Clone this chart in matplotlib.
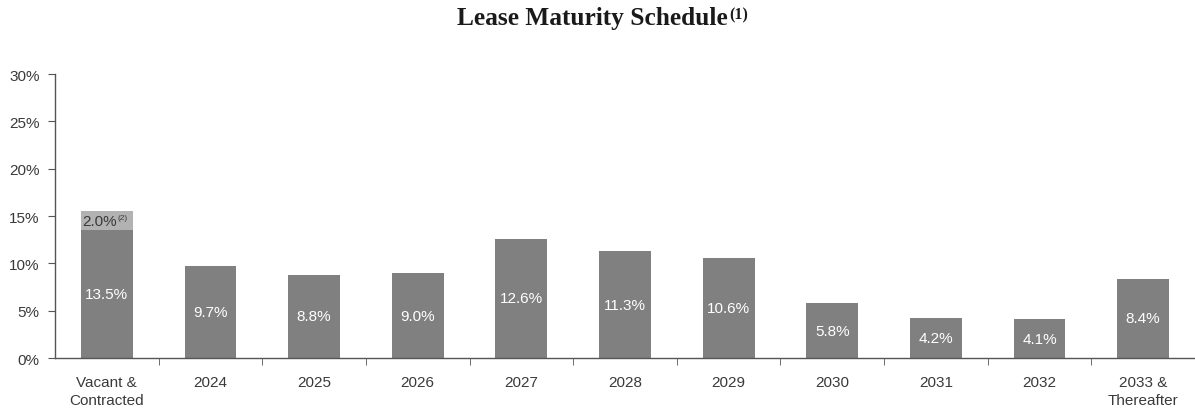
import matplotlib.pyplot as plt
import numpy as np

categories = ['Vacant &\nContracted', '2024', '2025', '2026', '2027', '2028',
              '2029', '2030', '2031', '2032', '2033 &\nThereafter']
maturity = [13.5, 9.7, 8.8, 9.0, 12.6, 11.3, 10.6, 5.8, 4.2, 4.1, 8.4]
contracted = [2.0, 0, 0, 0, 0, 0, 0, 0, 0, 0, 0]

DARK = '#808080'
LIGHT = '#b2b2b2'
TEXT = '#3a3a3a'

plt.rcParams['font.family'] = ['Liberation Sans', 'DejaVu Sans']

fig = plt.figure(figsize=(11.95, 4.1), dpi=100)
ax = fig.add_axes([0.046, 0.124, 0.954, 0.693])

x = np.arange(len(categories))
ax.bar(x, maturity, width=0.5, color=DARK)
ax.bar(x, contracted, width=0.5, bottom=maturity, color=LIGHT)

for xi, v in zip(x, maturity):
    ax.text(xi, v / 2, f'{v:.1f}%', ha='center', va='center',
            color='white', fontsize=11)

fig.canvas.draw()
renderer = fig.canvas.get_renderer()

for xi, v, c in zip(x, maturity, contracted):
    if c > 0:
        t = ax.text(xi - 0.24, v + c / 2, f'{c:.1f}%', ha='left', va='center',
                    color=TEXT, fontsize=11)
        bb = t.get_window_extent(renderer).transformed(ax.transData.inverted())
        ax.text(bb.x1 - 0.005, v + c / 2 + 0.35, '(2)', ha='left', va='center',
                color=TEXT, fontsize=6)

ax.set_xlim(-0.5, len(categories) - 0.5)
ax.set_ylim(0, 30)
ax.set_yticks(np.arange(0, 31, 5))
ax.set_yticklabels([f'{t}%' for t in range(0, 31, 5)])
ax.set_xticks(x)
ax.set_xticklabels(categories, linespacing=1.35)
ax.set_xticks(np.arange(0.5, len(categories) - 0.5), minor=True)
ax.tick_params(axis='x', which='major', length=0, pad=12, labelsize=11, labelcolor=TEXT)
ax.tick_params(axis='x', which='minor', length=5, color='#555555', direction='out')
ax.tick_params(axis='y', length=5, labelsize=11, labelcolor=TEXT, color='#555555', pad=6)

for s in ['top', 'right']:
    ax.spines[s].set_visible(False)
for s in ['left', 'bottom']:
    ax.spines[s].set_color('#555555')
    ax.spines[s].set_linewidth(1)

title = fig.text(0.496, 0.955, 'Lease Maturity Schedule', ha='center', va='center',
                 fontsize=18.3, fontweight='bold', family='Liberation Serif', color='#1a1a1a')
tb = title.get_window_extent(renderer).transformed(fig.transFigure.inverted())
fig.text(tb.x1 + 0.001, 0.962, '(1)', ha='left', va='center',
         fontsize=11.5, fontweight='bold', family='Liberation Serif', color='#1a1a1a')

fig.savefig('out.png', dpi=100)
